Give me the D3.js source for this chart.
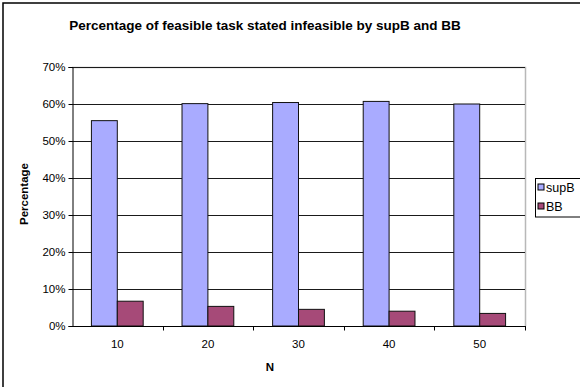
<!DOCTYPE html>
<html>
<head>
<meta charset="utf-8">
<script src="https://cdn.jsdelivr.net/npm/d3@7"></script>
<style>
  html, body { margin: 0; padding: 0; background: #fff; }
  svg { display: block; font-family: "Liberation Sans", Arial, sans-serif; }
</style>
</head>
<body>
<svg id="chart" width="580" height="387"></svg>
<script>
// Chart data
const categories = ["10", "20", "30", "40", "50"];
const seriesNames = ["supB", "BB"];
const supB = [0.555, 0.601, 0.604, 0.607, 0.600];
const BB = [0.067, 0.053, 0.045, 0.040, 0.034];
const yTicks = [0, 0.1, 0.2, 0.3, 0.4, 0.5, 0.6, 0.7];
const colors = ["#a9abff", "#a64a78"];

const title = "Percentage of feasible task stated infeasible by supB and BB";
const xTitle = "N";
const yTitle = "Percentage";

const svg = d3.select("#chart");

// Outer chart frame
svg.append("rect")
  .attr("x", 3).attr("y", 3)
  .attr("width", 620).attr("height", 420)
  .attr("fill", "#fff").attr("stroke", "#000").attr("stroke-width", 1.5);

const plot = { left: 72, right: 525, top: 67, bottom: 326 };

const x0 = d3.scaleBand()
  .domain(categories)
  .range([plot.left, plot.right])
  .paddingInner(0).paddingOuter(0);

const groupPad = 0.75 / 3.5; // Excel-style gap width of 150%
const x1 = d3.scaleBand()
  .domain(seriesNames)
  .range([x0.bandwidth() * groupPad, x0.bandwidth() * (1 - groupPad)]);

const y = d3.scaleLinear().domain([0, 0.7]).range([plot.bottom, plot.top]);

// Plot area border (top and right)
svg.append("path")
  .attr("d", `M${plot.left},${plot.top + 0.5}H${plot.right + 0.5}V${plot.bottom}`)
  .attr("fill", "none").attr("stroke", "#b8b8b8").attr("stroke-width", 1.5);

// Horizontal gridlines
svg.append("g")
  .selectAll("line")
  .data(yTicks.filter(t => t > 0))
  .join("line")
  .attr("x1", plot.left).attr("x2", plot.right)
  .attr("y1", d => Math.round(y(d)) + 0.5)
  .attr("y2", d => Math.round(y(d)) + 0.5)
  .attr("stroke", "#1a1a1a").attr("stroke-width", 1);

// Bars
const data = categories.map((c, i) => ({ cat: c, values: [supB[i], BB[i]] }));
const groups = svg.append("g")
  .selectAll("g")
  .data(data)
  .join("g")
  .attr("transform", d => `translate(${x0(d.cat)},0)`);

groups.selectAll("rect")
  .data(d => d.values.map((v, j) => ({ name: seriesNames[j], value: v, j })))
  .join("rect")
  .attr("x", d => x1(d.name))
  .attr("width", x1.bandwidth())
  .attr("y", d => y(d.value))
  .attr("height", d => y(0) - y(d.value))
  .attr("fill", d => colors[d.j])
  .attr("stroke", "#111").attr("stroke-width", 1);

// Y axis
const yAxis = d3.axisLeft(y)
  .tickValues(yTicks)
  .tickFormat(d3.format(".0%"))
  .tickSize(4)
  .tickPadding(3);
const yg = svg.append("g")
  .attr("transform", `translate(${plot.left + 0.5},0)`)
  .call(yAxis);
yg.select(".domain").attr("stroke", "#000");
yg.selectAll(".tick line").attr("stroke", "#000");
yg.selectAll(".tick text")
  .attr("font-size", 11.5).attr("fill", "#000")
  .attr("font-family", "Liberation Sans, Arial, sans-serif");

// X axis with ticks at category boundaries
const xg = svg.append("g")
  .attr("transform", `translate(0,${plot.bottom + 0.5})`);
xg.append("line")
  .attr("x1", plot.left).attr("x2", plot.right + 1)
  .attr("stroke", "#000");
xg.selectAll(".bnd")
  .data(categories.slice(1).map(c => x0(c)).concat([plot.right]))
  .join("line")
  .attr("class", "bnd")
  .attr("x1", d => Math.round(d) + 0.5).attr("x2", d => Math.round(d) + 0.5)
  .attr("y1", 0).attr("y2", 4)
  .attr("stroke", "#000");
xg.selectAll(".lbl")
  .data(categories)
  .join("text")
  .attr("class", "lbl")
  .attr("x", d => x0(d) + x0.bandwidth() / 2)
  .attr("y", 21.5)
  .attr("text-anchor", "middle")
  .attr("font-size", 11.5)
  .text(d => d);

// Titles
svg.append("text")
  .attr("x", 265).attr("y", 29.5)
  .attr("text-anchor", "middle")
  .attr("font-size", 13.5).attr("font-weight", "bold")
  .text(title);

svg.append("text")
  .attr("x", 270).attr("y", 371)
  .attr("text-anchor", "middle")
  .attr("font-size", 11.5).attr("font-weight", "bold")
  .text(xTitle);

svg.append("text")
  .attr("transform", "translate(28,194) rotate(-90)")
  .attr("text-anchor", "middle")
  .attr("font-size", 11.5).attr("font-weight", "bold")
  .text(yTitle);

// Legend
const legend = svg.append("g").attr("transform", "translate(535.5,178.5)");
legend.append("rect")
  .attr("width", 60).attr("height", 38.5)
  .attr("fill", "#fff").attr("stroke", "#000").attr("stroke-width", 1);
const items = legend.selectAll(".item")
  .data(seriesNames)
  .join("g")
  .attr("class", "item")
  .attr("transform", (d, i) => `translate(0,${9 + i * 19})`);
items.append("rect")
  .attr("x", 2.5).attr("y", -3.5)
  .attr("width", 6).attr("height", 6)
  .attr("fill", (d, i) => colors[i]).attr("stroke", "#000").attr("stroke-width", 1);
items.append("text")
  .attr("x", 10.5).attr("y", 4.5)
  .attr("font-size", 12.5)
  .text(d => d);
</script>
</body>
</html>
